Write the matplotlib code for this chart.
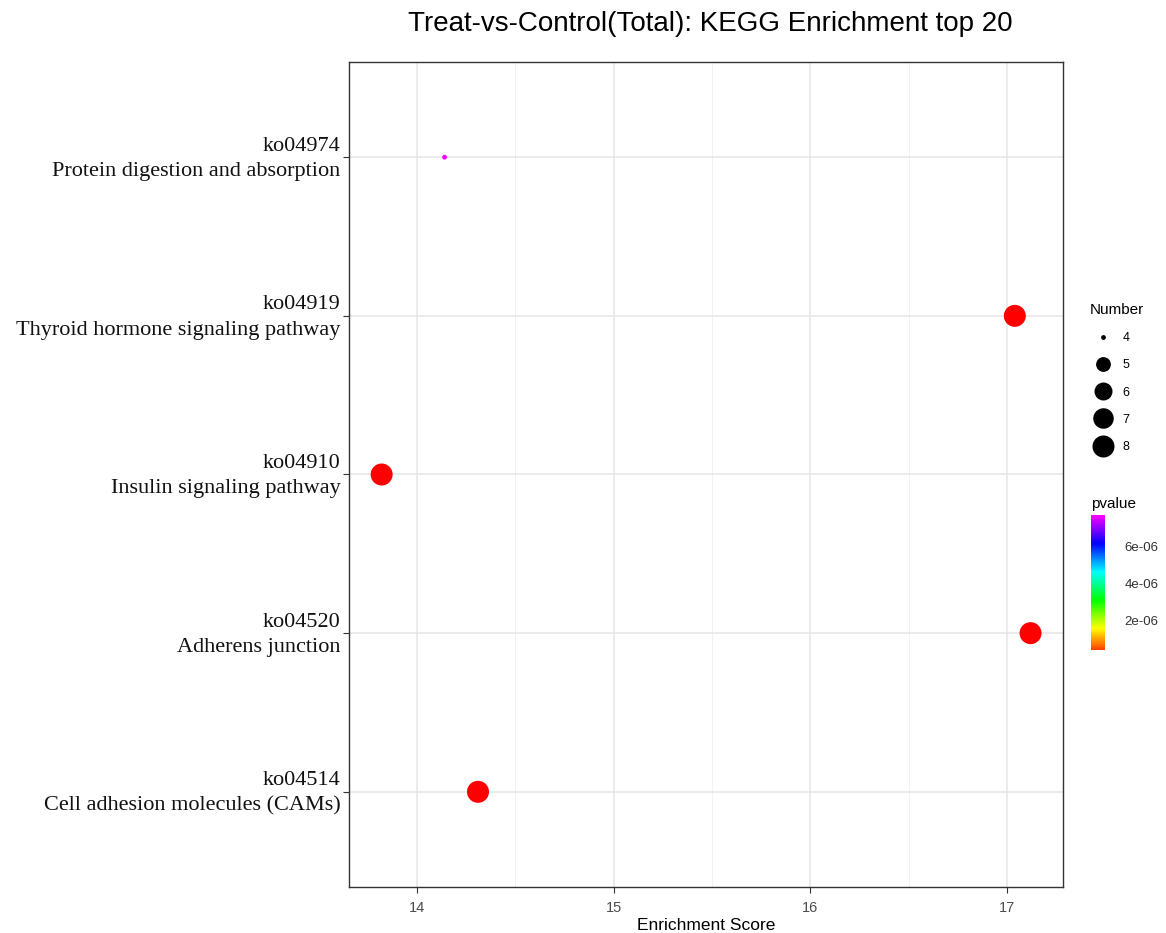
import numpy as np
import matplotlib
matplotlib.use("Agg")
import matplotlib.pyplot as plt
from matplotlib.colors import LinearSegmentedColormap, Normalize, hsv_to_rgb
from matplotlib.lines import Line2D
from matplotlib.transforms import ScaledTranslation

# --- DATA ---------------------------------------------------------------
terms = [
    "ko04514\nCell adhesion molecules (CAMs)",
    "ko04520\nAdherens junction",
    "ko04910\nInsulin signaling pathway",
    "ko04919\nThyroid hormone signaling pathway",
    "ko04974\nProtein digestion and absorption",
]
enrich_score = [14.31, 17.12, 13.82, 17.04, 14.14]
number = [8, 8, 8, 8, 4]
pvalue = [1.5e-8, 2.0e-8, 1.0e-8, 2.5e-8, 7.68e-6]

legend_numbers = [4, 5, 6, 7, 8]
cbar_ticks = [2e-6, 4e-6, 6e-6]
cbar_ticklabels = ["2e-06", "4e-06", "6e-06"]
cbar_lo = 3.8e-7   # lower end of the drawn colour bar

title = "Treat-vs-Control(Total): KEGG Enrichment top 20"

# --- STYLE --------------------------------------------------------------
W, H, DPI = 1166, 933, 100
SANS = ["Liberation Sans", "DejaVu Sans"]
SERIF = ["Liberation Serif", "DejaVu Serif"]

# rainbow red -> magenta (hue 0 .. 5/6)
hues = np.linspace(0, 5 / 6, 64)
rainbow = LinearSegmentedColormap.from_list(
    "rb", [hsv_to_rgb((h, 1, 1)) for h in hues])
norm = Normalize(vmin=0, vmax=max(pvalue))

# marker diameter (px) for Number
size_nums = [4, 5, 6, 7, 8]
size_diam = [4.8, 14.8, 18.0, 20.5, 22.0]


def diam_pt(n):
    return np.interp(n, size_nums, size_diam) * 72 / DPI


fig = plt.figure(figsize=(W / DPI, H / DPI), dpi=DPI)
ax = fig.add_axes([349 / W, 1 - 887 / H, (1063 - 349) / W, (887 - 62) / H])

y = np.arange(1, len(terms) + 1)
ax.scatter(enrich_score, y,
           s=[diam_pt(n) ** 2 for n in number],
           c=rainbow(norm(pvalue)), edgecolors="none", zorder=3)

ax.set_xlim(13.654, 17.285)
ax.set_ylim(0.4, 5.6)
ax.set_xticks([14, 15, 16, 17])
ax.set_xticks([14.5, 15.5, 16.5], minor=True)
ax.set_yticks(y)
ax.set_yticklabels(terms, fontfamily=SERIF, fontsize=16, color="#111111",
                   linespacing=1.45)
ax.tick_params(axis="x", which="major", labelsize=10.5, labelcolor="#4D4D4D",
               color="#333333", length=4, width=0.8, pad=6)
ax.tick_params(axis="x", which="minor", length=0)
ax.tick_params(axis="y", color="#333333", length=4, width=0.8, pad=2)
for lbl in ax.get_xticklabels():
    lbl.set_fontfamily(SANS)
# nudge labels up a little, as in the original (after tick_params)
up = ScaledTranslation(0, 4 / DPI, fig.dpi_scale_trans)
for lbl in ax.get_yticklabels():
    lbl.set_transform(lbl.get_transform() + up)

ax.grid(True, which="major", color="#E5E5E5", linewidth=1.1, zorder=0)
ax.grid(True, which="minor", axis="x", color="#F2F2F2", linewidth=0.7, zorder=0)
ax.set_axisbelow(True)
for sp in ax.spines.values():
    sp.set_color("#333333")
    sp.set_linewidth(1.0)

ax.set_xlabel("Enrichment Score", fontfamily=SANS, fontsize=12.5, labelpad=2)
fig.text(710 / W, 1 - 24 / H, title,
         fontfamily=SANS, fontsize=20, ha="center", va="center")

# --- size legend --------------------------------------------------------
handles = [Line2D([], [], linestyle="none", marker="o", color="black",
                  markersize=diam_pt(n), markeredgewidth=0)
           for n in legend_numbers]
leg = fig.legend(handles, [str(n) for n in legend_numbers],
                 title="Number", loc="upper left",
                 bbox_to_anchor=(1081 / W, 1 - 294 / H),
                 frameon=False, labelspacing=1.22,
                 handlelength=2.1, handletextpad=0.5, borderpad=0.2,
                 prop={"family": SANS, "size": 9},
                 title_fontproperties={"family": SANS, "size": 11})
leg._legend_box.align = "left"

# --- colorbar -----------------------------------------------------------
cax = fig.add_axes([1091 / W, 1 - 650 / H, 14 / W, 135 / H])
sm = plt.cm.ScalarMappable(cmap=rainbow, norm=norm)
sm.set_array([])
cbar = fig.colorbar(sm, cax=cax,
                    boundaries=np.linspace(cbar_lo, max(pvalue), 200))
cbar.outline.set_visible(False)
cbar.set_ticks(cbar_ticks)
cbar.set_ticklabels(cbar_ticklabels)
cax.tick_params(labelsize=9.5, length=3, color="white", width=0.8,
                labelcolor="#333333", pad=11)
for lbl in cax.get_yticklabels():
    lbl.set_fontfamily(SANS)
cax.set_title("pvalue", fontfamily=SANS, fontsize=11, loc="left", pad=5)

fig.savefig("out.png", dpi=DPI)
